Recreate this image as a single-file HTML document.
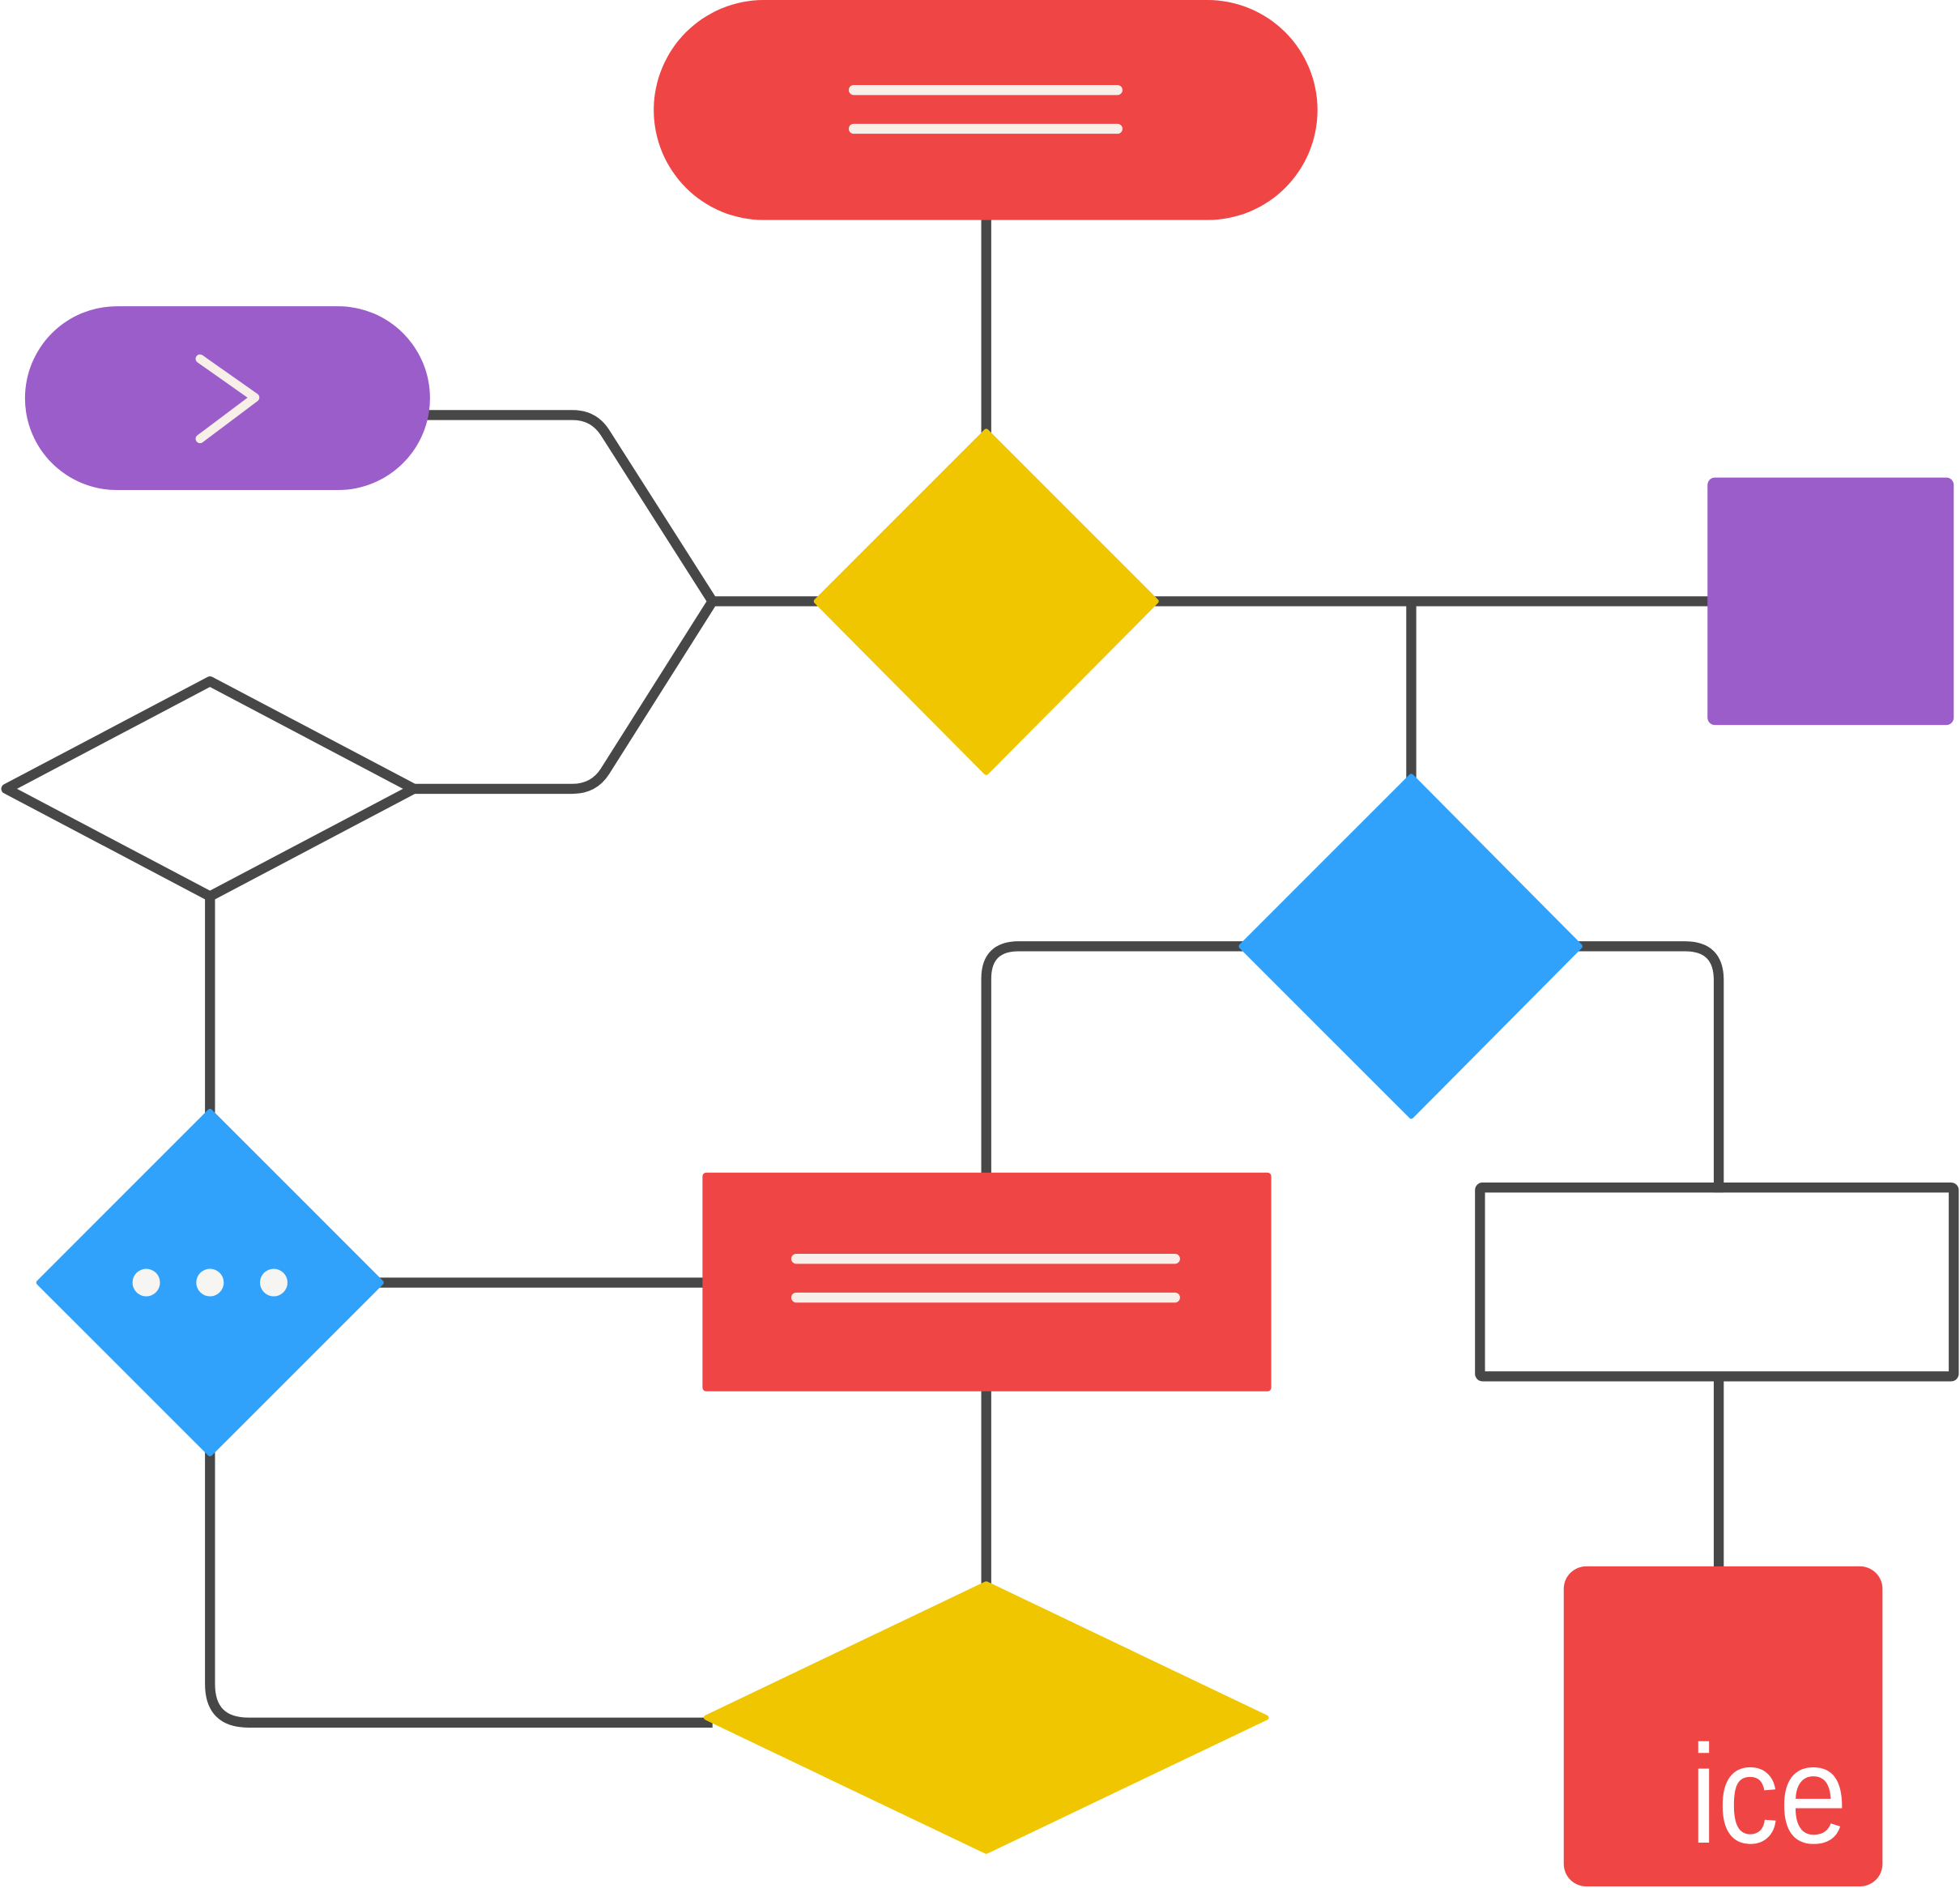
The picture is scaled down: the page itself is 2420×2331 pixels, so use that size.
<!DOCTYPE html>
<html><head><meta charset="utf-8"><style>
html,body{margin:0;padding:0;background:#fff;}
svg{display:block;}
</style></head><body>
<svg width="2420" height="2331" viewBox="0 0 1568 1510.3" xmlns="http://www.w3.org/2000/svg">
<g fill="none" stroke="#474747" stroke-width="8" stroke-linejoin="round">
<line x1="789" y1="170" x2="789" y2="350"/>
<path d="M340 332 H458 Q475 332 484 346 L570 481 L484 617 Q475 631 458 631 H330"/>
<line x1="570" y1="481" x2="660" y2="481"/>
<line x1="920" y1="481" x2="1370" y2="481"/>
<line x1="1129" y1="481" x2="1129" y2="626"/>
<path d="M998 757 H815 Q789 757 789 783 V942"/>
<path d="M1260 757 H1348 Q1375 757 1375 784 V954"/>
<rect x="1184" y="950" width="379" height="151" rx="2"/>
<line x1="1375" y1="1101" x2="1375" y2="1257"/>
<polygon points="5,631 168,545 331,631 168,717"/>
<line x1="168" y1="717" x2="168" y2="894"/>
<line x1="300" y1="1026" x2="566" y2="1026"/>
<line x1="789" y1="1110" x2="789" y2="1272"/>
<path d="M168 1158 V1347 Q168 1378 199 1378 H570"/>
</g>
<rect x="523" y="0" width="531" height="176" rx="88" fill="#EF4545"/>
<g stroke="#F7EFE8" stroke-width="8" stroke-linecap="round">
<line x1="683" y1="72" x2="894" y2="72"/><line x1="683" y1="103" x2="894" y2="103"/>
</g>
<rect x="20" y="245" width="324" height="147" rx="73.5" fill="#9B5DCA"/>
<polyline points="160,287 204,318 160,351" fill="none" stroke="#F7EFE8" stroke-width="7" stroke-linecap="round" stroke-linejoin="round"/>
<polygon points="789,345 925,481 789,618 653,481" fill="#F0C600" stroke="#F0C600" stroke-width="4" stroke-linejoin="round"/>
<rect x="1366" y="382" width="197" height="198" rx="6" fill="#9B5DCA"/>
<polygon points="1129,621 1264,757 1129,893 993,757" fill="#30A2FC" stroke="#30A2FC" stroke-width="4" stroke-linejoin="round"/>
<polygon points="168,889 305,1026 168,1163 31,1026" fill="#30A2FC" stroke="#30A2FC" stroke-width="4" stroke-linejoin="round"/>
<g fill="#F7F5F2"><circle cx="117" cy="1026" r="11"/><circle cx="168" cy="1026" r="11"/><circle cx="219" cy="1026" r="11"/></g>
<rect x="562" y="938" width="455" height="175" rx="3" fill="#EF4545"/>
<g stroke="#F7EFE8" stroke-width="8" stroke-linecap="round">
<line x1="637" y1="1007" x2="940" y2="1007"/><line x1="637" y1="1038" x2="940" y2="1038"/>
</g>
<polygon points="565,1374 789,1267 1013,1374 789,1481" fill="#F0C600" stroke="#F0C600" stroke-width="4" stroke-linejoin="round"/>
<rect x="1251" y="1253" width="255" height="256" rx="18" fill="#EF4545"/>
<text x="1352" y="1474" font-family="Liberation Sans, sans-serif" font-size="112" fill="#fff" textLength="126" lengthAdjust="spacingAndGlyphs">ice</text>
</svg>
</body></html>
